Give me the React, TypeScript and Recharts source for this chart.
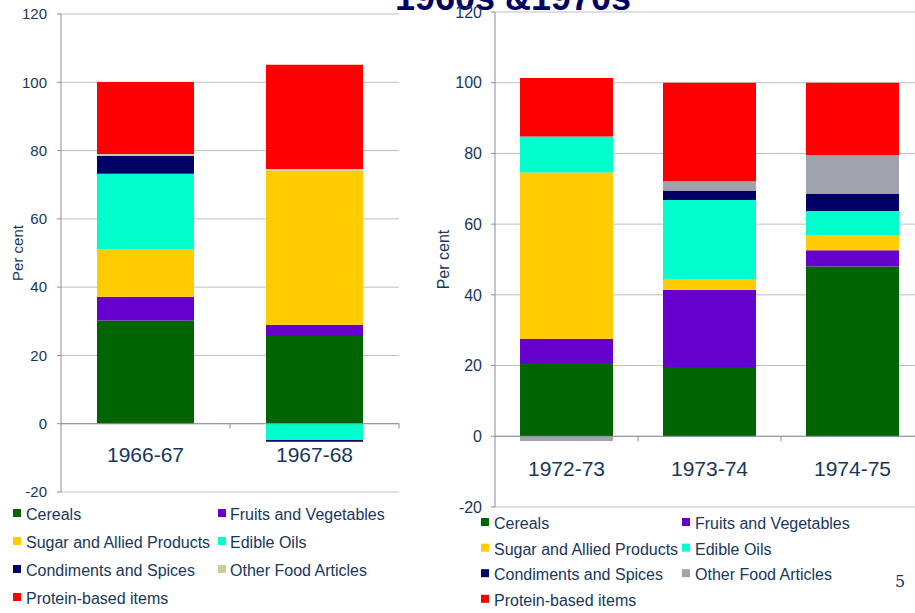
import { BarChart, Bar, XAxis, YAxis, CartesianGrid, ReferenceLine } from 'recharts';

const seriesNames = [
  'Cereals',
  'Fruits and Vegetables',
  'Sugar and Allied Products',
  'Edible Oils',
  'Condiments and Spices',
  'Other Food Articles',
  'Protein-based items',
];

// 1960s panel
const leftCategories = ['1966-67', '1967-68'];
const leftCereals = [30.2, 25.7];
const leftFruits = [7.0, 3.3];
const leftSugar = [13.8, 45.1];
const leftOils = [22.2, -4.8];
const leftCondiments = [5.3, -0.5];
const leftOther = [0.5, 0.5];
const leftProtein = [21.1, 30.5];

// 1970s panel
const rightCategories = ['1972-73', '1973-74', '1974-75'];
const rightCereals = [20.7, 19.6, 48.0];
const rightFruits = [6.9, 21.8, 4.6];
const rightSugar = [47.0, 3.1, 4.3];
const rightOils = [10.2, 22.3, 6.8];
const rightCondiments = [0, 2.6, 4.8];
const rightOther = [-1.3, 2.7, 11.0];
const rightProtein = [16.5, 27.9, 20.5];

const yTicks = [-20, 0, 20, 40, 60, 80, 100, 120];

const leftColors = ['#006400', '#6600CC', '#FFCC00', '#00FFCC', '#000066', '#CCCC99', '#FF0000'];
const rightColors = ['#006400', '#6600CC', '#FFCC00', '#00FFCC', '#000066', '#A0A3AD', '#FF0000'];

const TEXT = '#17375E';
const AXIS = '#8A8E9F';
const GRID = '#BBBFCB';
const FONT = '"Liberation Sans", Arial, sans-serif';

function buildRows(cats: string[], cols: number[][]) {
  return cats.map((name, i) => {
    const row: Record<string, any> = { name };
    cols.forEach((c, k) => (row['s' + k] = c[i]));
    return row;
  });
}

const leftRows = buildRows(leftCategories, [leftCereals, leftFruits, leftSugar, leftOils, leftCondiments, leftOther, leftProtein]);
const rightRows = buildRows(rightCategories, [rightCereals, rightFruits, rightSugar, rightOils, rightCondiments, rightOther, rightProtein]);

// category label sits just under the zero line; tick marks sit at the band edges
function makeTick(n: number, plotW: number, plotH: number, labelDy: number) {
  return (props: any) => {
    const { x, y, payload } = props;
    const zeroY = y - (plotH * 20) / 140;
    const edge = x + plotW / n / 2;
    return (
      <g>
        <line x1={edge} x2={edge} y1={zeroY} y2={zeroY + 5} stroke={AXIS} />
        <text x={x} y={y + labelDy} textAnchor="middle" fontSize={21} fill={TEXT} fontFamily={FONT}>
          {payload.value}
        </text>
      </g>
    );
  };
}

function perCent(dx: number, size: number) {
  return (props: any) => {
    const vb = props.viewBox;
    const cx = vb.x + dx;
    const cy = vb.y + vb.height / 2;
    return (
      <text x={cx} y={cy} transform={`rotate(-90 ${cx} ${cy})`} textAnchor="middle" dominantBaseline="central"
        fontSize={size} fill={TEXT} fontFamily={FONT}>
        Per cent
      </text>
    );
  };
}

interface PanelProps {
  rows: any[];
  colors: string[];
  width: number;
  height: number;
  margin: { top: number; right: number; bottom: number; left: number };
  yWidth: number;
  barSize: number;
  tickMargin: number;
  tickFont: number;
  labelDy: number;
  perCentDx: number;
}

function Panel(p: PanelProps) {
  const xH = 2;
  const plotW = p.width - p.margin.left - p.margin.right - p.yWidth;
  const plotH = p.height - p.margin.top - p.margin.bottom - xH;
  return (
    <BarChart width={p.width} height={p.height} data={p.rows} margin={p.margin} stackOffset="sign" barSize={p.barSize}>
      <CartesianGrid vertical={false} stroke={GRID} />
      <XAxis dataKey="name" height={xH} axisLine={false} tickLine={false} tickSize={0} tickMargin={0}
        interval={0} tick={makeTick(p.rows.length, plotW, plotH, p.labelDy)} />
      <YAxis width={p.yWidth} domain={[-20, 120]} ticks={yTicks} interval={0} stroke={AXIS}
        tickSize={4} tickMargin={p.tickMargin}
        tick={{ fill: TEXT, fontSize: p.tickFont, fontFamily: FONT }}
        label={{ content: perCent(p.perCentDx, p.tickFont) }} />
      {seriesNames.map((name, k) => (
        <Bar key={name} dataKey={'s' + k} name={name} stackId="a" fill={p.colors[k]} isAnimationActive={false} />
      ))}
      <ReferenceLine y={0} stroke={AXIS} />
    </BarChart>
  );
}

function Legend({ colors, x1, x2, tx1, tx2, base, step }: any) {
  return (
    <>
      {seriesNames.map((name, i) => {
        const col = i % 2;
        const row = Math.floor(i / 2);
        const by = base + row * step;
        return (
          <g key={name}>
            <rect x={col ? x2 : x1} y={by - 11} width={8} height={8} fill={colors[i]} />
            <text x={col ? tx2 : tx1} y={by} fontSize={16} fill={TEXT} fontFamily={FONT}>{name}</text>
          </g>
        );
      })}
    </>
  );
}

export default function App() {
  return (
    <div style={{ position: 'absolute', left: 0, top: 0, width: 915, height: 613, overflow: 'hidden', background: '#fff' }}>
      <svg width={915} height={613} style={{ position: 'absolute', left: 0, top: 0 }}>
        <text x={513} y={10} textAnchor="middle" fontSize={36} fontWeight="bold" fill="#000066" fontFamily={FONT}>
          1960s &amp;1970s
        </text>
      </svg>
      <div style={{ position: 'absolute', left: 0, top: 0 }}>
        <Panel rows={leftRows} colors={leftColors} width={420} height={500}
          margin={{ top: 14, right: 21, bottom: 6, left: 0 }} yWidth={61} barSize={97}
          tickMargin={10} tickFont={15} labelDy={-30} perCentDx={17} />
      </div>
      <div style={{ position: 'absolute', left: 420, top: 0 }}>
        <Panel rows={rightRows} colors={rightColors} width={520} height={515}
          margin={{ top: 12, right: 16, bottom: 6, left: 0 }} yWidth={75} barSize={93}
          tickMargin={9} tickFont={16} labelDy={-31} perCentDx={23} />
      </div>
      <svg width={915} height={613} style={{ position: 'absolute', left: 0, top: 0, pointerEvents: 'none' }}>
        <Legend colors={leftColors} x1={13} x2={218} tx1={26} tx2={230} base={520} step={28} />
        <Legend colors={rightColors} x1={481} x2={682} tx1={494} tx2={695} base={529} step={25.6} />
        <text x={895} y={587} fontSize={16} fill={TEXT} fontFamily='"DejaVu Serif", "Liberation Serif", serif'>5</text>
      </svg>
    </div>
  );
}
